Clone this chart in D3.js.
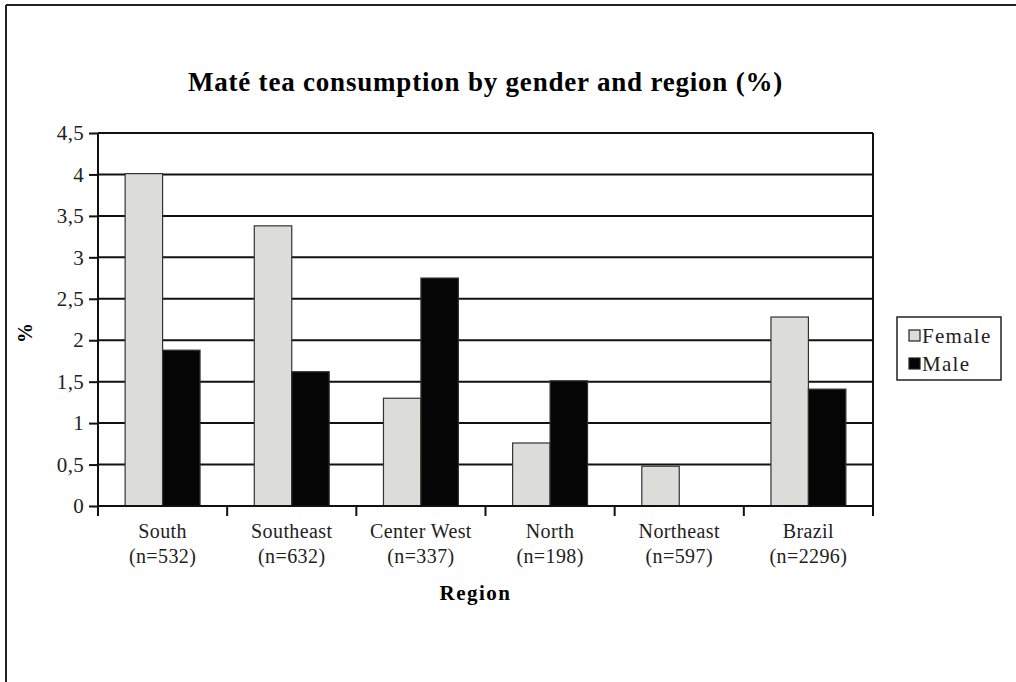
<!DOCTYPE html>
<html lang="en">
<head>
  <meta charset="utf-8"/>
  <title>Maté tea consumption by gender and region</title>
  <script src="https://d3js.org/d3.v7.min.js"></script>
  <style>
    body { margin: 0; background: #fff; }
    svg { display: block; font-family: "Liberation Serif", "DejaVu Serif", serif; }
  </style>
</head>
<body>
<svg id="chart" width="1016" height="682"></svg>
<script>
  const regions = ["South", "Southeast", "Center West", "North", "Northeast", "Brazil"];
  const sampleSizes = ["(n=532)", "(n=632)", "(n=337)", "(n=198)", "(n=597)", "(n=2296)"];
  const female = [4.01, 3.38, 1.30, 0.76, 0.48, 2.28];
  const male = [1.88, 1.62, 2.75, 1.51, 0, 1.41];
  const series = ["Female", "Male"];
  const yTicks = [0, 0.5, 1, 1.5, 2, 2.5, 3, 3.5, 4, 4.5];

  const svg = d3.select("#chart");
  const margin = { top: 133, left: 98, right: 143, bottom: 176 };
  const width = 1016, height = 682;
  const innerW = width - margin.left - margin.right;
  const innerH = height - margin.top - margin.bottom;
  const colors = { Female: "#dcdcd8", Male: "#050505" };

  // outer frame (top and left edges visible)
  svg.append("line").attr("x1", 6).attr("x2", width).attr("y1", 5).attr("y2", 5)
    .attr("stroke", "#222").attr("stroke-width", 2);
  svg.append("line").attr("x1", 6).attr("x2", 6).attr("y1", 5).attr("y2", height)
    .attr("stroke", "#222").attr("stroke-width", 2);

  const g = svg.append("g").attr("transform", `translate(${margin.left},${margin.top})`);

  const x = d3.scaleBand().domain(regions).range([0, innerW]).paddingInner(0.42).paddingOuter(0.21);
  const xs = d3.scaleBand().domain(series).range([0, x.bandwidth()]);
  const y = d3.scaleLinear().domain([0, 4.5]).range([innerH, 0]);
  const fmt = d => String(d).replace(".", ",");

  // gridlines
  g.append("g").selectAll("line").data(yTicks.slice(1)).join("line")
    .attr("x1", 0).attr("x2", innerW)
    .attr("y1", d => y(d)).attr("y2", d => y(d))
    .attr("stroke", "#111").attr("stroke-width", 2);

  // right border of plot area
  g.append("line").attr("x1", innerW).attr("x2", innerW).attr("y1", 0).attr("y2", innerH)
    .attr("stroke", "#111").attr("stroke-width", 2);

  // bars
  const data = regions.map((r, i) => ({ region: r, values: [
    { key: "Female", value: female[i] }, { key: "Male", value: male[i] }] }));
  g.append("g").selectAll("g").data(data).join("g")
    .attr("transform", d => `translate(${x(d.region)},0)`)
    .selectAll("rect").data(d => d.values.filter(v => v.value > 0)).join("rect")
    .attr("x", d => xs(d.key))
    .attr("width", xs.bandwidth())
    .attr("y", d => y(d.value))
    .attr("height", d => y(0) - y(d.value))
    .attr("fill", d => colors[d.key])
    .attr("stroke", "#333").attr("stroke-width", 1.2);

  // y axis
  const yAxis = g.append("g")
    .call(d3.axisLeft(y).tickValues(yTicks).tickFormat(fmt).tickSize(9).tickPadding(5));
  yAxis.select(".domain").attr("stroke", "#111").attr("stroke-width", 2).attr("d", `M0,${innerH + 10}V0`);
  yAxis.selectAll(".tick line").attr("stroke", "#111").attr("stroke-width", 2);
  yAxis.selectAll(".tick text").attr("fill", "#222").style("font-size", "21px")
    .style("letter-spacing", "0.3px").style("font-family", "Liberation Serif, serif");

  // x axis with ticks at category boundaries
  const xAxisG = g.append("g").attr("transform", `translate(0,${innerH})`);
  xAxisG.append("line").attr("x1", 0).attr("x2", innerW).attr("stroke", "#111").attr("stroke-width", 2);
  const bounds = d3.range(regions.length + 1).map(i => i * x.step());
  xAxisG.selectAll(".bt").data(bounds).join("line").attr("class", "bt")
    .attr("x1", d => d).attr("x2", d => d).attr("y1", 0).attr("y2", 10)
    .attr("stroke", "#111").attr("stroke-width", 2);
  const lab = xAxisG.selectAll(".cl").data(regions).join("text").attr("class", "cl")
    .attr("x", d => x(d) + x.bandwidth() / 2)
    .attr("text-anchor", "middle").attr("fill", "#222")
    .style("font-size", "20px").style("letter-spacing", "0.4px");
  lab.append("tspan").attr("x", d => x(d) + x.bandwidth() / 2).attr("y", 32).text(d => d);
  lab.append("tspan").attr("x", d => x(d) + x.bandwidth() / 2).attr("y", 57)
    .text((d, i) => sampleSizes[i]);

  // axis titles
  g.append("text").attr("x", innerW / 2 - 10).attr("y", innerH + 94)
    .attr("text-anchor", "middle").style("font-size", "21px").style("font-weight", "bold")
    .style("letter-spacing", "1.5px").text("Region");
  svg.append("text").attr("transform", `translate(32,333) rotate(-90)`)
    .attr("text-anchor", "middle").style("font-size", "20px").style("font-weight", "bold")
    .text("%");

  // title
  svg.append("text").attr("x", margin.left + innerW / 2).attr("y", 91)
    .attr("text-anchor", "middle").style("font-size", "27px").style("font-weight", "bold")
    .style("letter-spacing", "0.8px")
    .text("Maté tea consumption by gender and region (%)");

  // legend
  const lg = svg.append("g").attr("transform", "translate(897,317)");
  lg.append("rect").attr("width", 104).attr("height", 63)
    .attr("fill", "#fff").attr("stroke", "#222").attr("stroke-width", 1.5);
  series.forEach((s, i) => {
    lg.append("rect").attr("x", 12).attr("y", 13 + i * 28).attr("width", 11).attr("height", 11)
      .attr("fill", colors[s]).attr("stroke", "#222").attr("stroke-width", 1.2);
    lg.append("text").attr("x", 25).attr("y", 26 + i * 28).attr("fill", "#222")
      .style("font-size", "21px").style("letter-spacing", "1.3px").text(s);
  });
</script>
</body>
</html>
